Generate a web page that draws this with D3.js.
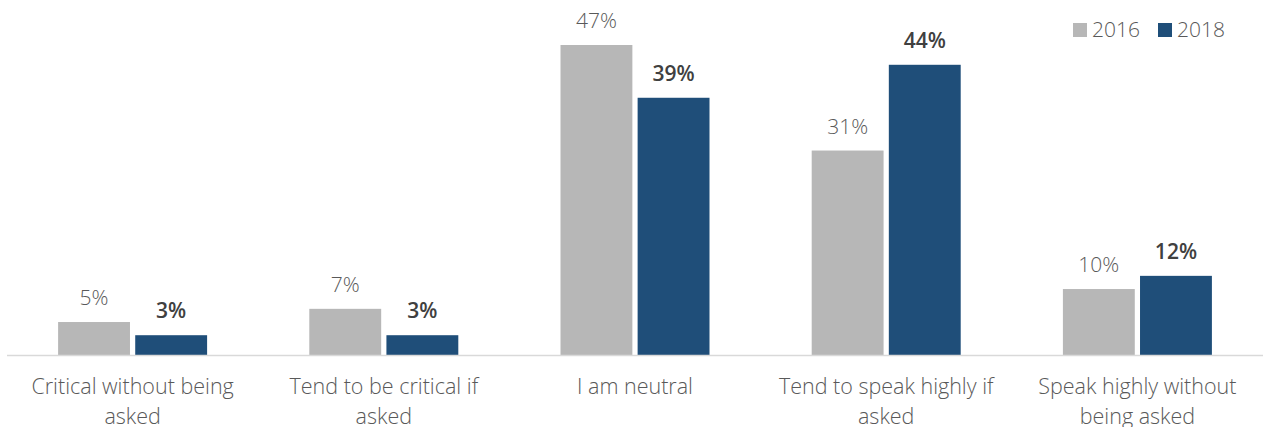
<!DOCTYPE html>
<html>
<head>
<meta charset="utf-8">
<script src="https://cdn.jsdelivr.net/npm/d3@7"></script>
<style>
  html, body { margin: 0; padding: 0; background: #fff; }
  svg { display: block; }
</style>
</head>
<body>
<svg id="chart" width="1269" height="427"></svg>
<script>
// Survey categories (two-line labels) and percentages per year
const categories = [
  ["Critical without being", "asked"],
  ["Tend to be critical if", "asked"],
  ["I am neutral"],
  ["Tend to speak highly if", "asked"],
  ["Speak highly without", "being asked"]
];
const years = ["2016", "2018"];
const values2016 = [5, 7, 47, 31, 10];
const values2018 = [3, 3, 39, 44, 12];

const colors = { "2016": "#b7b7b7", "2018": "#1f4e79" };
const font = "Open Sans, Lato, sans-serif";

const svg = d3.select("#chart");
const left = 7, right = 1263, baseY = 355;

const x0 = d3.scaleBand().domain(d3.range(categories.length)).range([left, right]);
const x1 = d3.scaleBand().domain(years).range([0, 149]).paddingInner(0.068);
const y = d3.scaleLinear().domain([0, 47]).range([baseY, 45]);

const series = years.map((yr, i) => ({
  year: yr,
  values: i === 0 ? values2016 : values2018
}));

const groups = svg.selectAll("g.grp")
  .data(categories.map((c, i) => ({ i, label: c })))
  .join("g")
  .attr("class", "grp")
  .attr("transform", d => `translate(${x0(d.i) + x0.bandwidth() / 2 - 74.5},0)`);

groups.each(function(d) {
  const g = d3.select(this);
  series.forEach(s => {
    const v = s.values[d.i];
    g.append("rect")
      .attr("x", x1(s.year))
      .attr("y", y(v))
      .attr("width", x1.bandwidth())
      .attr("height", baseY - y(v))
      .attr("fill", colors[s.year]);
    g.append("text")
      .attr("x", x1(s.year) + x1.bandwidth() / 2)
      .attr("y", y(v) - 17)
      .attr("text-anchor", "middle")
      .attr("font-family", font)
      .attr("font-size", 21)
      .attr("font-weight", s.year === "2018" ? 600 : 300)
      .attr("fill", s.year === "2018" ? "#404040" : "#595959")
      .text(v + "%");
  });
});

// Category axis line
svg.append("line")
  .attr("x1", left).attr("x2", right)
  .attr("y1", baseY + 0.5).attr("y2", baseY + 0.5)
  .attr("stroke", "#d9d9d9").attr("stroke-width", 1.5);

// Category labels
const labels = svg.selectAll("text.cat")
  .data(categories.map((c, i) => ({ i, lines: c })))
  .join("text")
  .attr("class", "cat")
  .attr("x", d => x0(d.i) + x0.bandwidth() / 2)
  .attr("y", 394)
  .attr("text-anchor", "middle")
  .attr("font-family", font)
  .attr("font-size", 21.5)
  .attr("font-weight", 300)
  .attr("fill", "#595959");
labels.each(function(d) {
  const t = d3.select(this);
  d.lines.forEach((ln, k) => {
    t.append("tspan")
      .attr("x", x0(d.i) + x0.bandwidth() / 2)
      .attr("dy", k === 0 ? 0 : 29.5)
      .text(ln);
  });
});

// Legend
const legend = svg.append("g").attr("transform", "translate(1073,22)");
const legX = d3.scaleOrdinal().domain(years).range([0, 85]);
years.forEach(yr => {
  legend.append("rect")
    .attr("x", legX(yr)).attr("y", 1)
    .attr("width", 14).attr("height", 14)
    .attr("fill", colors[yr]);
  legend.append("text")
    .attr("x", legX(yr) + 19).attr("y", 15)
    .attr("font-family", font)
    .attr("font-size", 21)
    .attr("font-weight", 300)
    .attr("fill", "#595959")
    .text(yr);
});
</script>
</body>
</html>
